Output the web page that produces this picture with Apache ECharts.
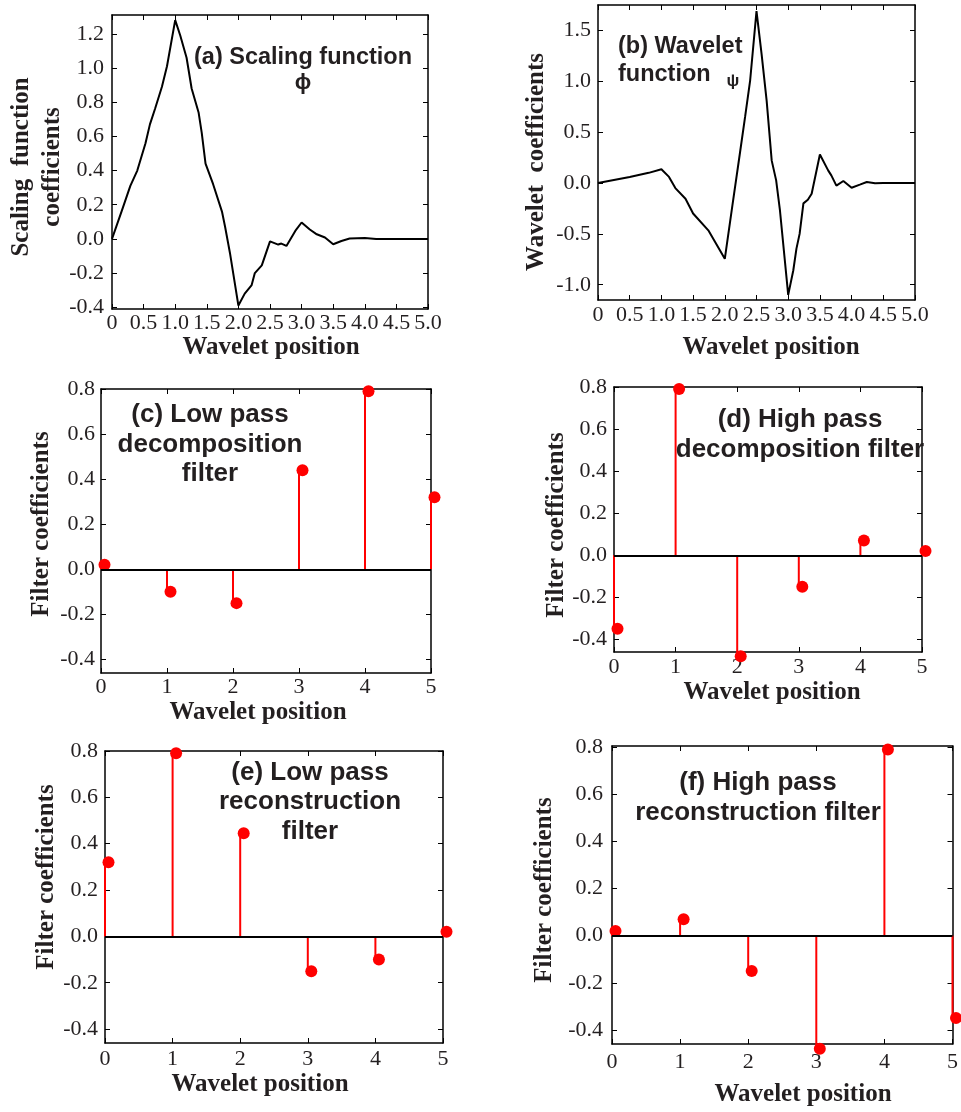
<!DOCTYPE html>
<html>
<head>
<meta charset="utf-8">
<script src="https://cdn.jsdelivr.net/npm/echarts@6/dist/echarts.min.js"></script>
<style>html,body{margin:0;padding:0;background:#fff}#c{width:961px;height:1112px}</style>
</head>
<body>
<div id="c"></div>
<script>
// ---- data ----
const phiX = [0, 0.16, 0.29, 0.4, 0.53, 0.6, 0.68, 0.79, 0.87, 1.0, 1.08, 1.18, 1.26, 1.37, 1.42, 1.48, 1.6, 1.74, 1.79, 1.87, 2.0, 2.1, 2.21, 2.26, 2.37, 2.5, 2.63, 2.68, 2.76, 2.9, 3.0, 3.13, 3.24, 3.37, 3.5, 3.63, 3.76, 4.0, 4.18, 5.0];
const phiY = [0, 0.17, 0.31, 0.40, 0.56, 0.67, 0.76, 0.89, 1.01, 1.28, 1.19, 1.06, 0.88, 0.74, 0.62, 0.44, 0.32, 0.16, 0.07, -0.09, -0.39, -0.32, -0.27, -0.20, -0.155, -0.014, -0.033, -0.027, -0.041, 0.047, 0.096, 0.055, 0.027, 0.008, -0.031, -0.012, 0.002, 0.006, 0, 0];
const psiX = [0, 0.5, 0.8, 1.0, 1.12, 1.22, 1.38, 1.5, 1.74, 2.0, 2.12, 2.24, 2.32, 2.4, 2.5, 2.58, 2.66, 2.74, 2.81, 2.87, 3.0, 3.08, 3.13, 3.18, 3.24, 3.31, 3.37, 3.5, 3.63, 3.68, 3.76, 3.87, 4.0, 4.13, 4.24, 4.37, 4.5, 5.0];
const psiY = [0, 0.06, 0.10, 0.135, 0.06, -0.05, -0.155, -0.30, -0.465, -0.745, -0.22, 0.30, 0.65, 1.01, 1.69, 1.27, 0.81, 0.22, 0.026, -0.27, -1.10, -0.86, -0.645, -0.50, -0.20, -0.164, -0.105, 0.28, 0.124, 0.075, -0.026, 0.02, -0.046, -0.016, 0.01, -0.003, 0, 0];
const filterPos = [0, 1, 2, 3, 4, 5];
const lowDecomp = [0.02, -0.10, -0.15, 0.44, 0.79, 0.32];
const highDecomp = [-0.35, 0.79, -0.48, -0.15, 0.07, 0.02];
const lowRecon = [0.32, 0.79, 0.445, -0.15, -0.10, 0.02];
const highRecon = [0.02, 0.07, -0.15, -0.48, 0.79, -0.35];
const xTicksHalf = [0, 0.5, 1.0, 1.5, 2.0, 2.5, 3.0, 3.5, 4.0, 4.5, 5.0];
const xTicksInt = [0, 1, 2, 3, 4, 5];
const yTicksPhi = [-0.4, -0.2, 0.0, 0.2, 0.4, 0.6, 0.8, 1.0, 1.2];
const yTicksPsi = [-1.0, -0.5, 0.0, 0.5, 1.0, 1.5];
const yTicksFilter = [-0.4, -0.2, 0.0, 0.2, 0.4, 0.6, 0.8];

// ---- layout ----
const panels = [
  {grid:{left:112, top:15, width:316, height:294}, yMin:-0.41, yMax:1.31, yt:yTicksPhi, xt:xTicksHalf, half:true, xm:3, ym:8},
  {grid:{left:598, top:5, width:317, height:295}, yMin:-1.15, yMax:1.75, yt:yTicksPsi, xt:xTicksHalf, half:true, xm:4, ym:7},
  {grid:{left:101, top:389, width:330, height:284}, yMin:-0.46, yMax:0.8, yt:yTicksFilter, xt:xTicksInt, half:false, xm:3, ym:6},
  {grid:{left:614, top:387, width:308, height:265}, yMin:-0.46, yMax:0.8, yt:yTicksFilter, xt:xTicksInt, half:false, xm:4, ym:7},
  {grid:{left:105, top:751, width:338, height:292}, yMin:-0.46, yMax:0.8, yt:yTicksFilter, xt:xTicksInt, half:false, xm:5, ym:7},
  {grid:{left:612, top:746, width:345, height:298}, yMin:-0.46, yMax:0.805, yt:yTicksFilter, xt:xTicksInt, half:false, xm:7, ym:9}
];

const serif = '"Liberation Serif", "Times New Roman", serif';
const sans = '"Liberation Sans", Arial, sans-serif';
const txt = '#231f20';
const labelSize = 22;

const grids = [], xAxes = [], yAxes = [], series = [];
panels.forEach((p, i) => {
  grids.push(Object.assign({containLabel:false, show:false}, p.grid));
  const line = {show:true, onZero:false, lineStyle:{color:'#000', width:1.5}};
  const tick = {show:true, inside:true, length:5, lineStyle:{color:'#000', width:1}};
  const xfmt = v => p.half ? (v === 0 ? '0' : v.toFixed(1)) : String(v);
  xAxes.push({type:'value', gridIndex:i, position:'bottom', min:0, max:5,
    axisLine:line, splitLine:{show:false},
    axisTick:Object.assign({customValues:p.xt}, tick),
    axisLabel:{customValues:p.xt, formatter:xfmt, margin:p.xm, color:txt, fontFamily:serif, fontSize:labelSize, showMinLabel:true, showMaxLabel:true}});
  xAxes.push({type:'value', gridIndex:i, position:'top', min:0, max:5,
    axisLine:line, splitLine:{show:false},
    axisTick:Object.assign({customValues:p.xt}, tick), axisLabel:{show:false}});
  yAxes.push({type:'value', gridIndex:i, position:'left', min:p.yMin, max:p.yMax,
    axisLine:line, splitLine:{show:false},
    axisTick:Object.assign({customValues:p.yt}, tick),
    axisLabel:{customValues:p.yt, formatter:v => v.toFixed(1), margin:p.ym, color:txt, fontFamily:serif, fontSize:labelSize}});
  yAxes.push({type:'value', gridIndex:i, position:'right', min:p.yMin, max:p.yMax,
    axisLine:line, splitLine:{show:false},
    axisTick:Object.assign({customValues:p.yt}, tick), axisLabel:{show:false}});
});

function curve(i, xs, ys) {
  series.push({type:'line', xAxisIndex:2*i, yAxisIndex:2*i, data:xs.map((x, k) => [x, ys[k]]),
    showSymbol:false, symbol:'none', lineStyle:{color:'#000', width:2}, animation:false, clip:false});
}
function stems(i, xs, ys) {
  const d = xs.map((x, k) => [x, ys[k]]);
  series.push({type:'custom', xAxisIndex:2*i, yAxisIndex:2*i, data:d, clip:false, animation:false, z:2,
    encode:{x:0, y:1},
    renderItem:(params, api) => {
      const a = api.coord([api.value(0), 0]);
      const b = api.coord([api.value(0), api.value(1)]);
      return {type:'line', shape:{x1:a[0], y1:a[1], x2:b[0], y2:b[1]}, style:{stroke:'#ff0000', lineWidth:2}};
    }});
  series.push({type:'scatter', xAxisIndex:2*i, yAxisIndex:2*i, data:d, symbol:'circle', symbolSize:12,
    symbolOffset:[3.5, 0], itemStyle:{color:'#ff0000', opacity:1}, clip:false, animation:false, z:4,
    markLine:{silent:true, symbol:['none','none'], label:{show:false}, animation:false,
      lineStyle:{color:'#000', width:2, type:'solid'}, data:[{yAxis:0}]}});
}
curve(0, phiX, phiY);
curve(1, psiX, psiY);
stems(2, filterPos, lowDecomp);
stems(3, filterPos, highDecomp);
stems(4, filterPos, lowRecon);
stems(5, filterPos, highRecon);

function T(text, x, y, opt) {
  opt = opt || {};
  return {type:'text', x:x, y:y, rotation:opt.rot || 0, z:10, silent:true,
    style:{text:text, fill:txt, align:opt.align || 'center', verticalAlign:'middle',
      fontFamily:opt.ff || serif, fontWeight:'bold', fontSize:opt.fs || 25, lineHeight:opt.lh || undefined}};
}
const R = Math.PI / 2;
const graphics = [
  // axis titles
  T('Wavelet position', 271, 348),
  T('Scaling  function\ncoefficients', 37, 167, {rot:R, lh:31}),
  T('Wavelet position', 771, 348),
  T('Wavelet  coefficients', 537, 162, {rot:R}),
  T('Wavelet position', 258, 713),
  T('Filter coefficients', 42, 524, {rot:R}),
  T('Wavelet position', 772, 693),
  T('Filter coefficients', 557, 525, {rot:R}),
  T('Wavelet position', 260, 1085),
  T('Filter coefficients', 47, 877, {rot:R}),
  T('Wavelet position', 803, 1095),
  T('Filter coefficients', 545, 890, {rot:R}),
  // annotations
  T('(a) Scaling function', 303, 58, {ff:sans, fs:23.5}),
  T('\u03D5', 303, 83, {ff:sans, fs:22}),
  T('(b) Wavelet', 618, 47, {ff:sans, fs:23.5, align:'left'}),
  T('function', 618, 75, {ff:sans, fs:23.5, align:'left'}),
  T('\u03C8', 733, 81, {ff:sans, fs:17}),
  T('(c) Low pass', 210, 415, {ff:sans, fs:26}),
  T('decomposition', 210, 445, {ff:sans, fs:26}),
  T('filter', 210, 474, {ff:sans, fs:26}),
  T('(d) High pass', 800, 420, {ff:sans, fs:26}),
  T('decomposition filter', 800, 450, {ff:sans, fs:26}),
  T('(e) Low pass', 310, 773, {ff:sans, fs:26}),
  T('reconstruction', 310, 802, {ff:sans, fs:26}),
  T('filter', 310, 832, {ff:sans, fs:26}),
  T('(f) High pass', 758, 783, {ff:sans, fs:26}),
  T('reconstruction filter', 758, 813, {ff:sans, fs:26})
];

const chart = echarts.init(document.getElementById('c'), null, {renderer:'canvas'});
chart.setOption({
  backgroundColor:'#ffffff',
  animation:false,
  grid:grids, xAxis:xAxes, yAxis:yAxes, series:series, graphic:graphics
});
</script>
</body>
</html>
